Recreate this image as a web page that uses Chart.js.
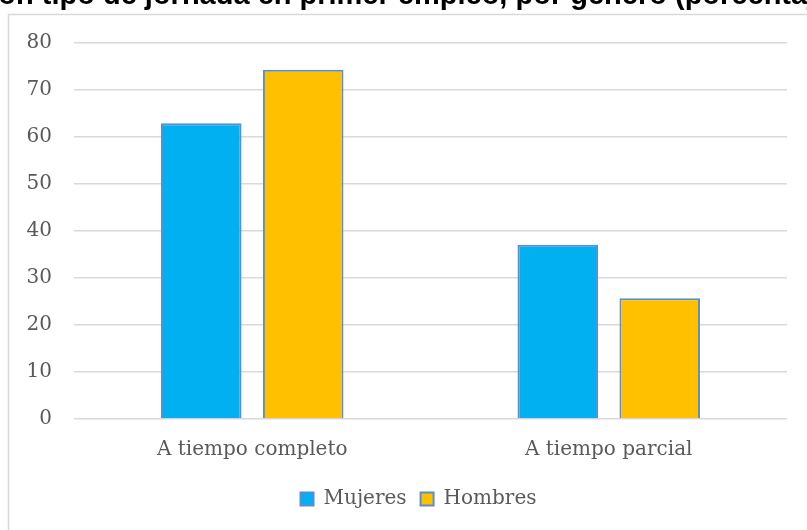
<!DOCTYPE html>
<html>
<head>
<meta charset="utf-8">
<script src="https://cdn.jsdelivr.net/npm/chart.js@4.4.1/dist/chart.umd.min.js"></script>
<style>
  body { margin: 0; background: #fff; }
  canvas { display: block; }
</style>
</head>
<body>
<canvas id="myChart" width="807" height="530"></canvas>
<script>
// data
const categories = ["A tiempo completo", "A tiempo parcial"];
const mujeres = [62.9, 37.1];
const hombres = [74.3, 25.7];
const yTicks = [0, 10, 20, 30, 40, 50, 60, 70, 80];
const titleText = "Gráfico 4. Distribución tipo de jornada en primer empleo, por género (porcentaje)";

const textColor = "#595959";
const gridColor = "#d9d9d9";
const serif = "'DejaVu Serif', serif";

// white page, the grey frame and the cut-off title on top
const framePlugin = {
  id: "frame",
  afterLayout(chart) {
    // the legend sits centred on the frame, a bit right of the plot centre
    chart.legend.left += 25;
    chart.legend.right += 25;
  },
  beforeDraw(chart) {
    const ctx = chart.ctx;
    ctx.save();
    ctx.fillStyle = "#fff";
    ctx.fillRect(0, 0, chart.width, chart.height);
    ctx.strokeStyle = gridColor;
    ctx.lineWidth = 1.5;
    ctx.beginPath();
    ctx.moveTo(8.5, chart.height);
    ctx.lineTo(8.5, 14.5);
    ctx.lineTo(chart.width, 14.5);
    ctx.stroke();
    // title, only its lower part shows
    ctx.font = "bold 29px 'Liberation Sans', Arial, sans-serif";
    ctx.fillStyle = "#000";
    ctx.textBaseline = "alphabetic";
    const pre = ctx.measureText("Gráfico 4. Distribución tipo de jornada en primer empleo, por género ").width;
    ctx.fillText(titleText, 675 - pre, 4);
    ctx.restore();
  }
};

const data_1 = {
  labels: categories,
  datasets: [
    {
      label: "Mujeres",
      data: mujeres,
      backgroundColor: "#00b0f0",
      borderColor: "#5a8ed2",
      borderWidth: 2,
      barPercentage: 0.79,
      categoryPercentage: 0.572,
    },
    {
      label: "Hombres",
      data: hombres,
      backgroundColor: "#ffc000",
      borderColor: "#5a8ed2",
      borderWidth: 2,
      barPercentage: 0.79,
      categoryPercentage: 0.572,
    },
  ],
};

const config = {
  type: "bar",
  data: data_1,
  options: {
    responsive: false,
    animation: false,
    layout: {
      padding: { left: 0, top: 43, right: 20, bottom: 11 },
    },
    scales: {
      x: {
        grid: { display: false },
        border: { display: false },
        ticks: {
          color: textColor,
          font: { family: serif, size: 20 },
          padding: 11,
        },
        afterFit: (s) => { s.height = 56; },
      },
      y: {
        min: 0,
        max: 80,
        afterBuildTicks: (s) => { s.ticks = yTicks.map((v) => ({ value: v })); },
        grid: {
          color: gridColor,
          lineWidth: 1.5,
          drawTicks: false,
        },
        border: { display: false },
        ticks: {
          color: textColor,
          font: { family: serif, size: 20 },
          padding: 22,
        },
        afterFit: (s) => { s.width = 74; },
      },
    },
    plugins: {
      title: { display: false },
      tooltip: { enabled: false },
      legend: {
        position: "bottom",
        labels: {
          color: textColor,
          font: { family: serif, size: 20 },
          boxWidth: 13,
          boxHeight: 13,
          padding: 14,
        },
      },
    },
  },
  plugins: [framePlugin],
};

const ctx = document.getElementById("myChart").getContext("2d");
const myChart = new Chart(ctx, config);
</script>
</body>
</html>
